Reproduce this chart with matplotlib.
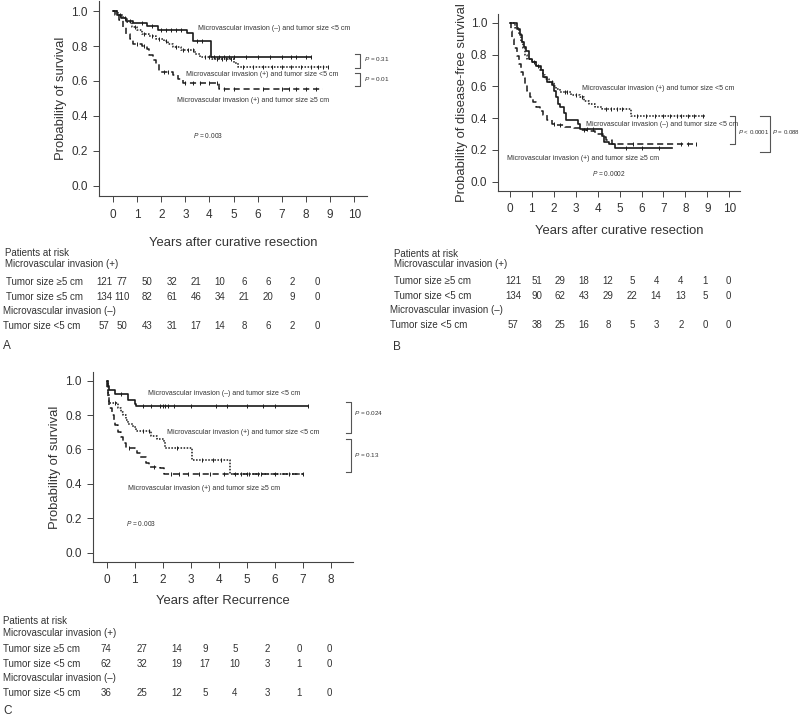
# -*- coding: utf-8 -*-
import numpy as np
import matplotlib
matplotlib.use("Agg")
import matplotlib.pyplot as plt

plt.rcParams['font.family'] = ['Liberation Sans', 'DejaVu Sans']
plt.rcParams['mathtext.fontset'] = 'custom'
plt.rcParams['mathtext.it'] = 'Liberation Sans:italic'
plt.rcParams['mathtext.rm'] = 'Liberation Sans'

INK = "#1a1a1a"
TXT = "#333333"

# --- DATA ---
labels_neg = "Microvascular invasion (–) and tumor size <5 cm"
labels_pos_small = "Microvascular invasion (+) and tumor size <5 cm"
labels_pos_big = "Microvascular invasion (+) and tumor size ≥5 cm"

# Panel A: overall survival
a_neg_t = [0, 0.15, 0.35, 0.55, 0.85, 1.4, 1.85, 3.05, 3.3, 4.05, 8.2]
a_neg_s = [1.0, 0.98, 0.96, 0.945, 0.93, 0.915, 0.895, 0.875, 0.83, 0.735, 0.735]
a_neg_c = [0.3, 0.7, 1.2, 1.6, 2.0, 2.2, 2.4, 2.6, 2.8, 3.5, 3.7, 4.2, 4.4, 4.6,
           4.8, 5.0, 5.5, 6.0, 6.5, 7.0, 7.4, 7.6, 8.0, 8.2]
a_ps_t = [0, 0.2, 0.4, 0.6, 0.8, 1.0, 1.2, 1.5, 1.8, 2.1, 2.3, 2.5, 2.8, 3.4, 3.6,
          4.1, 5.0, 5.2, 8.9]
a_ps_s = [1.0, 0.98, 0.96, 0.94, 0.91, 0.89, 0.87, 0.855, 0.84, 0.83, 0.81, 0.795,
          0.775, 0.755, 0.735, 0.725, 0.705, 0.68, 0.68]
a_ps_c = [0.5, 0.9, 1.3, 1.6, 1.9, 2.2, 2.6, 2.9, 3.1, 3.3, 3.8, 4.0, 4.3, 4.5,
          4.7, 4.9, 5.4, 5.8, 6.2, 6.6, 7.0, 7.4, 7.8, 8.2, 8.5, 8.7, 8.9]
a_pb_t = [0, 0.1, 0.25, 0.4, 0.55, 0.7, 0.85, 1.2, 1.4, 1.5, 1.65, 1.8, 1.9, 2.5,
          2.7, 2.9, 4.4, 8.7]
a_pb_s = [1.0, 0.98, 0.95, 0.91, 0.87, 0.84, 0.81, 0.80, 0.785, 0.75, 0.72, 0.70,
          0.65, 0.635, 0.61, 0.59, 0.555, 0.555]
a_pb_c = [1.0, 1.3, 2.1, 2.3, 3.0, 3.3, 3.6, 4.0, 4.3, 4.6, 5.0, 6.2, 7.0, 7.3,
          7.6, 8.0, 8.4]

# Panel B: disease-free survival
b_neg_t = [0, 0.3, 0.45, 0.55, 0.65, 0.75, 0.85, 1.0, 1.2, 1.4, 1.5, 1.7, 1.9, 2.0,
           2.1, 2.2, 2.3, 2.45, 2.55, 3.1, 3.2, 4.2, 4.3, 4.5, 4.8, 7.4]
b_neg_s = [1.0, 0.96, 0.92, 0.88, 0.85, 0.82, 0.77, 0.75, 0.73, 0.70, 0.66, 0.63,
           0.61, 0.57, 0.53, 0.49, 0.47, 0.43, 0.385, 0.36, 0.33, 0.29, 0.25, 0.235,
           0.21, 0.21]
b_neg_c = [1.1, 3.5, 3.8, 5.3, 6.0, 6.8]
b_ps_t = [0, 0.25, 0.4, 0.5, 0.6, 0.7, 0.8, 1.0, 1.2, 1.35, 1.5, 1.6, 1.8, 2.0, 2.1,
          2.3, 2.8, 3.2, 3.4, 3.6, 3.9, 4.2, 5.5, 8.9]
b_ps_s = [1.0, 0.97, 0.93, 0.88, 0.84, 0.80, 0.77, 0.75, 0.73, 0.70, 0.67, 0.645,
          0.625, 0.605, 0.585, 0.565, 0.545, 0.53, 0.51, 0.49, 0.47, 0.46, 0.41, 0.41]
b_ps_c = [1.3, 1.9, 2.5, 2.6, 3.0, 3.3, 4.4, 4.6, 4.9, 5.1, 5.8, 6.2, 6.6, 7.0,
          7.3, 7.6, 7.8, 8.1, 8.4, 8.8]
b_pb_t = [0, 0.05, 0.1, 0.2, 0.3, 0.4, 0.5, 0.6, 0.7, 0.8, 0.9, 1.05, 1.2, 1.35,
          1.5, 1.7, 1.9, 2.1, 2.5, 2.9, 3.2, 3.5, 3.9, 4.25, 4.4, 4.65, 8.5]
b_pb_s = [1.0, 0.95, 0.90, 0.84, 0.79, 0.74, 0.69, 0.65, 0.61, 0.57, 0.535, 0.50,
          0.47, 0.445, 0.42, 0.39, 0.365, 0.355, 0.345, 0.335, 0.325, 0.318, 0.30,
          0.28, 0.26, 0.237, 0.237]
b_pb_c = [2.0, 2.3, 3.4, 5.6, 7.8, 8.1, 8.5]

# Panel C: survival after recurrence
c_neg_t = [0, 0.03, 0.1, 0.3, 0.75, 1.0, 1.05, 7.2]
c_neg_s = [1.0, 0.97, 0.945, 0.92, 0.89, 0.865, 0.85, 0.85]
c_neg_c = [0.5, 1.3, 1.6, 1.9, 2.0, 2.1, 2.2, 2.4, 3.0, 3.9, 4.3, 5.0, 5.6, 6.0, 7.2]
c_ps_t = [0, 0.03, 0.1, 0.4, 0.5, 0.6, 0.7, 0.75, 0.95, 1.05, 1.6, 1.8, 2.05, 2.1,
          3.05, 4.4, 7.0]
c_ps_s = [1.0, 0.93, 0.87, 0.84, 0.82, 0.80, 0.77, 0.75, 0.73, 0.71, 0.68, 0.66,
          0.645, 0.61, 0.54, 0.46, 0.46]
c_ps_c = [0.3, 1.3, 1.5, 2.5, 3.4, 3.8, 4.1, 4.8, 5.1, 5.5, 6.0, 6.5, 7.0]
c_pb_t = [0, 0.02, 0.05, 0.1, 0.2, 0.25, 0.3, 0.4, 0.5, 0.6, 0.7, 1.0, 1.1, 1.2,
          1.4, 1.5, 1.9, 2.05, 7.0]
c_pb_s = [1.0, 0.95, 0.90, 0.84, 0.80, 0.77, 0.74, 0.70, 0.67, 0.64, 0.61, 0.60,
          0.58, 0.555, 0.52, 0.50, 0.49, 0.46, 0.46]
c_pb_c = [0.8, 1.7, 2.3, 2.6, 2.9, 3.3, 3.7, 4.2, 4.6, 5.0, 5.4]

# numbers at risk
a_risk_pb = [121, 77, 50, 32, 21, 10, 6, 6, 2, 0]
a_risk_ps = [134, 110, 82, 61, 46, 34, 21, 20, 9, 0]
a_risk_neg = [57, 50, 43, 31, 17, 14, 8, 6, 2, 0]
b_risk_pb = [121, 51, 29, 18, 12, 5, 4, 4, 1, 0]
b_risk_ps = [134, 90, 62, 43, 29, 22, 14, 13, 5, 0]
b_risk_neg = [57, 38, 25, 16, 8, 5, 3, 2, 0, 0]
c_risk_pb = [74, 27, 14, 9, 5, 2, 0, 0]
c_risk_ps = [62, 32, 19, 17, 10, 3, 1, 0]
c_risk_neg = [36, 25, 12, 5, 4, 3, 1, 0]

W, H = 800, 717
fig = plt.figure(figsize=(8, 7.17), dpi=100)


def px(x, y):
    return x / W, 1 - y / H


def km(ax, t, s, cens, ls, lw=1.1):
    ax.step(t, s, where="post", color=INK, lw=lw, linestyle=ls)
    t = np.array(t)
    s = np.array(s)
    idx = np.searchsorted(t, cens, side="right") - 1
    ax.plot(cens, s[idx], linestyle="none", marker="|", ms=3, mew=0.7, color=INK)


def style_axes(ax, xmax_tick, xlim, ylim, ylabel, xlabel, lab_pad, ylab_pad):
    ax.set_xlim(*xlim)
    ax.set_ylim(*ylim)
    ax.set_xticks(range(0, xmax_tick + 1))
    ax.set_yticks([0, 0.2, 0.4, 0.6, 0.8, 1.0])
    ax.set_yticklabels(["0.0", "0.2", "0.4", "0.6", "0.8", "1.0"])
    for sp in ["top", "right"]:
        ax.spines[sp].set_visible(False)
    for sp in ["left", "bottom"]:
        ax.spines[sp].set_color("#444444")
        ax.spines[sp].set_linewidth(0.8)
    ax.tick_params(direction="out", length=4, width=0.7, colors="#444444",
                   labelsize=8.5, labelcolor=TXT)
    ax.tick_params(axis="x", pad=5)
    ax.tick_params(axis="y", pad=4)
    ax.set_ylabel(ylabel, fontsize=9.4, color=TXT, labelpad=ylab_pad)
    ax.set_xlabel(xlabel, fontsize=9.4, color=TXT, labelpad=lab_pad)


def bracket(x, y0, y1, w=5):
    fx0, fy0 = px(x - w, y0)
    fx1, fy1 = px(x, y1)
    fig.add_artist(plt.Line2D([fx0, fx1, fx1, fx0], [fy0, fy0, fy1, fy1],
                              color="#555555", lw=0.8))


def ftxt(x, y, s, size=5, ha="left", va="center"):
    fx, fy = px(x, y)
    fig.text(fx, fy, s, fontsize=size, color=TXT, ha=ha, va=va)


def risk_table(ys, label_x, rows, cols):
    # rows: (label, values or None, indent)
    for (label, vals, indent), y in zip(rows, ys):
        ftxt(label_x + indent, y, label, size=7)
        if vals is not None:
            for v, cx in zip(vals, cols):
                ftxt(cx, y, str(v), size=7, ha="center")


# --- PANEL A ---
ax_a = fig.add_axes([99 / W, 1 - 196 / H, (367 - 99) / W, 196 / H - 0.001])
km(ax_a, a_neg_t, a_neg_s, a_neg_c, "-", 1.2)
km(ax_a, a_ps_t, a_ps_s, a_ps_c, (0, (1, 1)))
km(ax_a, a_pb_t, a_pb_s, a_pb_c, (0, (4, 2.5)))
style_axes(ax_a, 10, (-0.58, 10.53), (-0.059, 1.06), "Probability of survival",
           "Years after curative resection", 12, 3)
ftxt(198, 29, labels_neg)
ftxt(186, 75, labels_pos_small)
ftxt(177, 101, labels_pos_big)
ftxt(193, 135, "$P$ = 0.003", size=4.8)
bracket(360, 54, 68)
ftxt(364, 59, "$P$ = 0.31", size=4.6)
bracket(360, 73, 86)
ftxt(364, 79, "$P$ = 0.01", size=4.6)

risk_table([253, 264, 282, 297, 311, 326], 3, [
    ("Patients at risk", None, 2),
    ("Microvascular invasion (+)", None, 2),
    ("Tumor size ≥5 cm", a_risk_pb, 3),
    ("Tumor size ≤5 cm", a_risk_ps, 3),
    ("Microvascular invasion (–)", None, 0),
    ("Tumor size <5 cm", a_risk_neg, 0),
], [104, 122, 147, 172, 196, 220, 244, 268, 292, 317])
ftxt(3, 346, "A", size=8.5)

# --- PANEL B ---
ax_b = fig.add_axes([498.3 / W, 1 - 190.7 / H, (740 - 498.3) / W, (190.7 - 14) / H])
km(ax_b, b_neg_t, b_neg_s, b_neg_c, "-", 1.2)
km(ax_b, b_ps_t, b_ps_s, b_ps_c, (0, (1, 1)))
km(ax_b, b_pb_t, b_pb_s, b_pb_c, (0, (4, 2.5)))
style_axes(ax_b, 10, (-0.53, 10.49), (-0.057, 1.055),
           "Probability of disease-free survival", "Years after curative resection",
           7, 2)
ftxt(582, 89, labels_pos_small)
ftxt(586, 125, labels_neg)
ftxt(507, 158, labels_pos_big)
ftxt(592, 174, "$P$ = 0.0002", size=4.8)
bracket(735, 116, 144)
ftxt(738, 132, "$P$ < 0.0001", size=4.4)
bracket(770, 116, 152, 10)
ftxt(772, 132, "$P$ = 0.088", size=4.4)

risk_table([254, 264, 281, 296, 310, 325], 390, [
    ("Patients at risk", None, 4),
    ("Microvascular invasion (+)", None, 4),
    ("Tumor size ≥5 cm", b_risk_pb, 4),
    ("Tumor size <5 cm", b_risk_ps, 4),
    ("Microvascular invasion (–)", None, 0),
    ("Tumor size <5 cm", b_risk_neg, 0),
], [513, 537, 560, 584, 608, 632, 656, 681, 705, 728])
ftxt(393, 347, "B", size=8.5)

# --- PANEL C ---
ax_c = fig.add_axes([92.7 / W, 1 - 561.7 / H, (352.7 - 92.7) / W, (561.7 - 372) / H])
km(ax_c, c_neg_t, c_neg_s, c_neg_c, "-", 1.2)
km(ax_c, c_ps_t, c_ps_s, c_ps_c, (0, (1, 1)))
km(ax_c, c_pb_t, c_pb_s, c_pb_c, (0, (4, 2.5)))
style_axes(ax_c, 8, (-0.5, 8.79), (-0.052, 1.05), "Probability of survival",
           "Years after Recurrence", 6, 3)
ftxt(148, 393, labels_neg)
ftxt(167, 432, labels_pos_small)
ftxt(128, 489, labels_pos_big)
ftxt(126, 523, "$P$ = 0.003", size=4.8)
bracket(351, 402, 433)
ftxt(354, 413, "$P$ = 0.024", size=4.6)
bracket(351, 439, 472)
ftxt(354, 455, "$P$ = 0.13", size=4.6)

risk_table([621, 633, 649, 664, 678, 693], 3, [
    ("Patients at risk", None, 0),
    ("Microvascular invasion (+)", None, 0),
    ("Tumor size ≥5 cm", c_risk_pb, 0),
    ("Tumor size <5 cm", c_risk_ps, 0),
    ("Microvascular invasion (–)", None, 0),
    ("Tumor size <5 cm", c_risk_neg, 0),
], [106, 142, 177, 205, 235, 267, 299, 329])
ftxt(3, 711, "C", size=8.5)

fig.savefig("out.png", dpi=100, facecolor="white")
